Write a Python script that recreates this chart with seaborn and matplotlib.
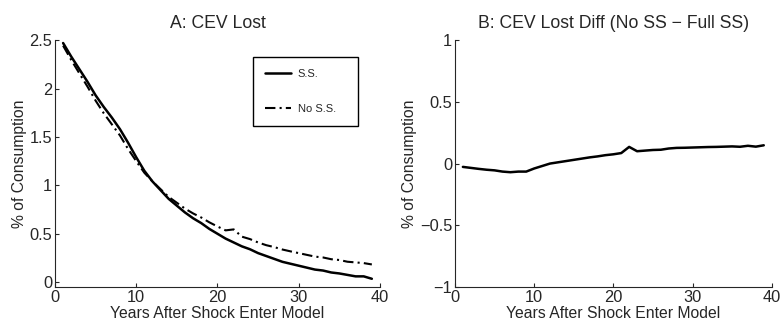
import numpy as np
import pandas as pd
import matplotlib
matplotlib.use("Agg")
import matplotlib.pyplot as plt
from matplotlib.lines import Line2D
import seaborn as sns

# Years after the shock enters the model
years = list(range(1, 40))

# CEV lost with social security (% of consumption)
cev_ss = [2.47, 2.33, 2.20, 2.07, 1.93, 1.81, 1.70, 1.58, 1.44, 1.29,
          1.15, 1.04, 0.95, 0.86, 0.79, 0.72, 0.66, 0.61, 0.55, 0.50,
          0.45, 0.41, 0.37, 0.34, 0.30, 0.27, 0.24, 0.21, 0.19, 0.17,
          0.15, 0.13, 0.12, 0.10, 0.09, 0.075, 0.06, 0.06, 0.035]

# Difference in CEV lost: no social security minus full social security
cev_diff = [-0.027, -0.035, -0.043, -0.050, -0.055, -0.065, -0.070, -0.065, -0.065, -0.040,
            -0.020, 0.000, 0.010, 0.020, 0.030, 0.040, 0.050, 0.058, 0.068, 0.075,
            0.085, 0.135, 0.100, 0.105, 0.110, 0.112, 0.122, 0.127, 0.128, 0.130,
            0.132, 0.134, 0.135, 0.137, 0.139, 0.136, 0.144, 0.137, 0.148]

cev_noss = [a + d for a, d in zip(cev_ss, cev_diff)]

series_labels = ["S.S.", "No S.S."]
panel_titles = ["A: CEV Lost", "B: CEV Lost Diff (No SS \u2212 Full SS)"]
x_label = "Years After Shock Enter Model"
y_label = "% of Consumption"

sns.set_style("ticks")
plt.rcParams["font.family"] = ["Liberation Sans", "DejaVu Sans"]
plt.rcParams["xtick.direction"] = "in"
plt.rcParams["ytick.direction"] = "in"
plt.rcParams["axes.linewidth"] = 0.8

df_a = pd.DataFrame({
    "year": years * 2,
    "cev": cev_ss + cev_noss,
    "case": [series_labels[0]] * len(years) + [series_labels[1]] * len(years),
})
df_b = pd.DataFrame({"year": years, "diff": cev_diff})

fig = plt.figure(figsize=(7.82, 3.27), dpi=100)
ax1 = fig.add_axes([0.0703, 0.1223, 0.4156, 0.755])
ax2 = fig.add_axes([0.5818, 0.1223, 0.405, 0.755])

sns.lineplot(data=df_a, x="year", y="cev", hue="case", style="case",
             palette=["black", "black"], dashes=[(), (5, 2, 1, 2)],
             ax=ax1, legend=False)
ax1.lines[0].set_linewidth(1.8)
ax1.lines[1].set_linewidth(1.5)

# Boxed legend, stretched to a fixed width inside the upper right of panel A
handles = [Line2D([], [], color="black", lw=1.8),
           Line2D([], [], color="black", lw=1.5, dashes=(5, 2, 1, 2))]
leg = ax1.legend(handles, series_labels, loc="upper left",
                 bbox_to_anchor=(0.608, 0.5, 0.323, 0.432), mode="expand",
                 fontsize=8, frameon=True, fancybox=False, framealpha=1,
                 edgecolor="black", handlelength=2.35, handletextpad=0.6,
                 labelspacing=2.2, borderpad=1.1, borderaxespad=0)
leg.get_frame().set_linewidth(1.0)

sns.lineplot(data=df_b, x="year", y="diff", color="black", lw=1.8, ax=ax2)

ax1.set_xlim(0, 40)
ax1.set_ylim(-0.05, 2.5)
ax1.set_yticks([0, 0.5, 1, 1.5, 2, 2.5])
ax1.set_yticklabels(["0", "0.5", "1", "1.5", "2", "2.5"])
ax2.set_xlim(0, 40)
ax2.set_ylim(-1, 1)
ax2.set_yticks([-1, -0.5, 0, 0.5, 1])
ax2.set_yticklabels(["\u22121", "\u22120.5", "0", "0.5", "1"])

for ax, title in zip([ax1, ax2], panel_titles):
    ax.set_xticks([0, 10, 20, 30, 40])
    ax.set_title(title, fontsize=12.7, pad=9)
    ax.set_xlabel(x_label, fontsize=11.3, labelpad=1)
    ax.set_ylabel(y_label, fontsize=11.3, labelpad=2)
    ax.tick_params(labelsize=11.8, length=3, width=0.8, pad=2)
    sns.despine(ax=ax)

fig.savefig("out.png", dpi=100)
